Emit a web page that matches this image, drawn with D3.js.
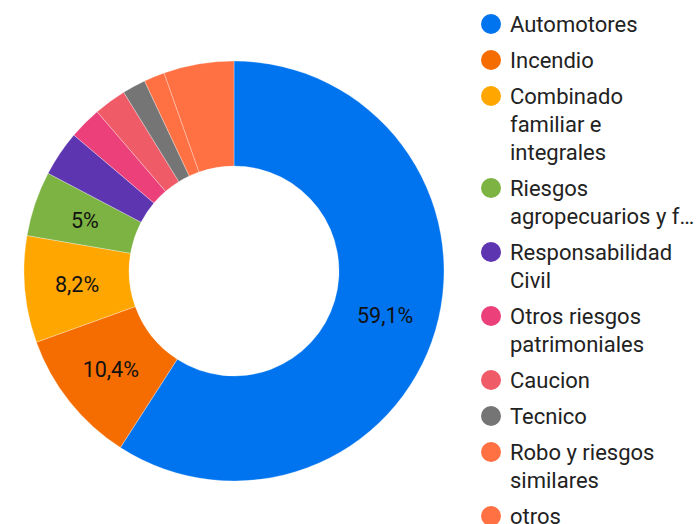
<!DOCTYPE html>
<html>
<head>
<meta charset="utf-8">
<script src="https://cdn.jsdelivr.net/npm/d3@7"></script>
<style>
  body { margin: 0; background: #fff; }
  svg { display: block; font-family: Roboto, sans-serif; }
</style>
</head>
<body>
<div id="donut"></div>
<script>
// Data
const categories = [
  "Automotores", "Incendio", "Combinado familiar e integrales",
  "Riesgos agropecuarios y forestales", "Responsabilidad Civil",
  "Otros riesgos patrimoniales", "Caucion", "Tecnico",
  "Robo y riesgos similares", "otros"
];
const shares = [59.1, 10.4, 8.2, 5.0, 3.5, 2.5, 2.5, 1.8, 1.6, 5.4];
const sliceLabels = ["59,1%", "10,4%", "8,2%", "5%", "", "", "", "", "", ""];
const legendLines = [
  ["Automotores"],
  ["Incendio"],
  ["Combinado", "familiar e", "integrales"],
  ["Riesgos", "agropecuarios y f…"],
  ["Responsabilidad", "Civil"],
  ["Otros riesgos", "patrimoniales"],
  ["Caucion"],
  ["Tecnico"],
  ["Robo y riesgos", "similares"],
  ["otros"]
];
const colors = ["#0073ee", "#f56d00", "#ffa600", "#7cb342", "#5e35b1",
                "#ec407a", "#ef5b67", "#757575", "#ff7043", "#ff7043"];

const drawDonut = () => {
  const width = 697;
  const height = 524;
  const cx = 234, cy = 271;
  const outerR = 210, innerR = 105;

  const data = categories.map((c, i) => ({
    name: c, value: shares[i], label: sliceLabels[i], color: colors[i], lines: legendLines[i]
  }));

  const svg = d3.select("#donut")
    .append("svg")
      .attr("width", width)
      .attr("height", height);

  const pie = d3.pie()
    .value(d => d.value)
    .sort(null);

  const arc = d3.arc()
    .innerRadius(innerR)
    .outerRadius(outerR);

  const chart = svg.append("g")
    .attr("transform", `translate(${cx}, ${cy})`);

  const arcs = pie(data);

  chart.selectAll("path")
    .data(arcs)
    .join("path")
      .attr("d", arc)
      .attr("fill", d => d.data.color)
      .attr("stroke", "#fff")
      .attr("stroke-width", 0.5)
      .attr("stroke-opacity", 0.6);

  chart.selectAll("text.slice")
    .data(arcs.filter(d => d.data.label))
    .join("text")
      .attr("class", "slice")
      .attr("transform", d => `translate(${arc.centroid(d)})`)
      .attr("text-anchor", "middle")
      .attr("dominant-baseline", "central")
      .attr("font-size", 21.5)
      .attr("fill", "#111")
      .text(d => d.data.label);

  // legend
  const legend = svg.append("g")
    .attr("transform", "translate(491, 0)");

  const lineH = 28;
  const gap = 36;
  let y = 24;
  data.forEach(d => {
    const item = legend.append("g")
      .attr("transform", `translate(0, ${y})`);
    item.append("circle")
      .attr("r", 10)
      .attr("fill", d.color);
    item.selectAll("text")
      .data(d.lines)
      .join("text")
        .attr("x", 19)
        .attr("y", (l, i) => i * lineH)
        .attr("dominant-baseline", "central")
        .attr("font-size", 22)
        .attr("fill", "#222")
        .text(l => l);
    y += gap + (d.lines.length - 1) * lineH;
  });
};

drawDonut();
</script>
</body>
</html>
